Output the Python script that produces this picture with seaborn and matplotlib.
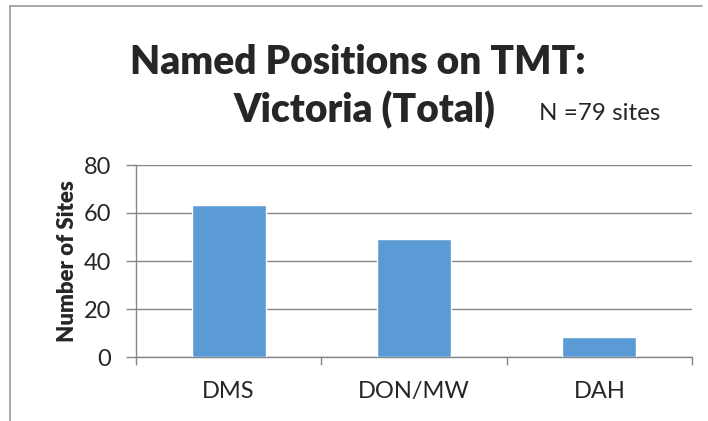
import matplotlib

matplotlib.use("Agg")
import matplotlib.pyplot as plt
import pandas as pd
import seaborn as sns
from matplotlib.lines import Line2D

positions = ["DMS", "DON/MW", "DAH"]
site_counts = [63.5, 49, 8.5]
y_ticks = [0, 20, 40, 60, 80]
title_lines = ["Named Positions on TMT:", "Victoria (Total)"]
note_text = "N =79 sites"

df = pd.DataFrame({"position": positions, "sites": site_counts})

sns.set_theme(style="white")
plt.rcParams["font.family"] = ["Lato", "DejaVu Sans"]

fig = plt.figure(figsize=(7.08, 4.21), dpi=100)
ax = fig.add_axes([136 / 708, 64 / 421, 556 / 708, 192 / 421])

sns.barplot(data=df, x="position", y="sites", color="#5B9BD5", width=0.4,
            saturation=1, ax=ax, zorder=3)

ax.set_ylim(0, 80)
ax.set_yticks(y_ticks)
ax.set_xlim(-0.5, 2.5)
ax.yaxis.grid(True, color="#868686", linewidth=1, zorder=0)
ax.set_axisbelow(True)
for side in ["top", "right"]:
    ax.spines[side].set_visible(False)
for side in ["left", "bottom"]:
    ax.spines[side].set_color("#868686")
    ax.spines[side].set_linewidth(1)

# category boundary ticks on x, outward ticks on y
ax.set_xticks([-0.5, 0.5, 1.5, 2.5], minor=True)
ax.tick_params(axis="x", which="minor", length=6, color="#868686", width=1, bottom=True)
ax.tick_params(axis="x", which="major", length=0, labelsize=17, pad=17)
ax.tick_params(axis="y", length=7, color="#868686", width=1, left=True, labelsize=17, pad=11)

ax.set_xlabel("")
ax.set_ylabel("Number of Sites", fontsize=16, fontweight="heavy", labelpad=4)

fig.text(0.505, 0.852, title_lines[0], ha="center", va="center",
         fontsize=28, fontweight="heavy")
fig.text(0.515, 0.738, title_lines[1], ha="center", va="center",
         fontsize=28, fontweight="heavy")
fig.text(0.762, 0.730, note_text, ha="left", va="center", fontsize=17.5)

# outer chart border (top and left edges visible)
fig.add_artist(Line2D([10 / 708, 702 / 708], [415 / 421, 415 / 421],
                      color="#999999", linewidth=1.2))
fig.add_artist(Line2D([10 / 708, 10 / 708], [0, 415 / 421],
                      color="#999999", linewidth=1.2))

fig.savefig("out.png", dpi=100)
